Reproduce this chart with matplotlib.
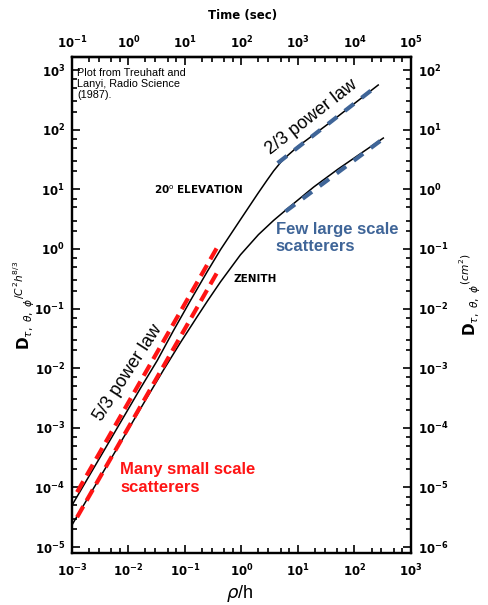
import numpy as np
import matplotlib.pyplot as plt
from matplotlib.ticker import LogLocator, NullFormatter, FuncFormatter

# values (log10 of rho/h and of D/(C^2 h^(8/3)))
elev_logx = [-3.00, -1.79, -1.49, -1.21, -0.90, -0.60, -0.37, -0.02, 0.29, 0.45, 0.57,
             0.70, 0.82, 1.00, 1.17, 1.58, 1.89, 2.42]
elev_logy = [-4.30, -2.34, -1.87, -1.38, -0.86, -0.37, -0.01, 0.49, 0.93, 1.15, 1.31,
             1.46, 1.57, 1.72, 1.84, 2.13, 2.36, 2.75]

zen_logx = [-3.00, -1.67, -1.38, -1.08, -0.78, -0.60, -0.37, -0.02, 0.30, 0.57, 0.87,
            1.28, 1.71, 2.17, 2.51]
zen_logy = [-4.63, -2.49, -2.03, -1.57, -1.13, -0.87, -0.55, -0.10, 0.24, 0.48, 0.72,
            1.04, 1.34, 1.64, 1.86]

# 5/3 power law fits (red) and 2/3 power law fits (blue)
red_up_logx = [-2.91, -0.41]
red_up_logy = [-4.08, 0.06]
red_lo_logx = [-2.91, -0.41]
red_lo_logy = [-4.50, -0.36]

blue_up_logx = [0.64, 2.35]
blue_up_logy = [1.44, 2.70]
blue_lo_logx = [0.78, 2.51]
blue_lo_logy = [0.63, 1.85]

RED = '#ff1414'
BLUE = '#3f6598'


def pw(v):
    return 10.0 ** np.array(v)


def bold_pow(val, pos):
    e = int(round(np.log10(val)))
    return r'$\mathbf{10^{%d}}$' % e


def style_log_axis(axis):
    axis.set_major_locator(LogLocator(base=10, numticks=20))
    axis.set_minor_locator(LogLocator(base=10, subs=(2, 3, 5, 7), numticks=20))
    axis.set_minor_formatter(NullFormatter())
    axis.set_major_formatter(FuncFormatter(bold_pow))


fig = plt.figure(figsize=(4.88, 6.05), dpi=100)
ax = fig.add_axes([0.1475, 0.086, 0.6947, 0.8198])
ax.set_xscale('log')
ax.set_yscale('log')
ax.set_xlim(1e-3, 1e3)
ax.set_ylim(10 ** -5.1, 10 ** 3.22)

ax.plot(pw(elev_logx), pw(elev_logy), color='black', lw=1.1, zorder=2)
ax.plot(pw(zen_logx), pw(zen_logy), color='black', lw=1.1, zorder=2)

ax.plot(pw(red_up_logx), pw(red_up_logy), color=RED, lw=3, dashes=(3, 1.6), zorder=3)
ax.plot(pw(red_lo_logx), pw(red_lo_logy), color=RED, lw=3, dashes=(3, 1.6), zorder=3)
ax.plot(pw(blue_up_logx), pw(blue_up_logy), color=BLUE, lw=3, dashes=(2.8, 2.3), zorder=3)
ax.plot(pw(blue_lo_logx), pw(blue_lo_logy), color=BLUE, lw=3, dashes=(2.8, 2.3), zorder=3)

# ticks
style_log_axis(ax.xaxis)
style_log_axis(ax.yaxis)
ax.tick_params(which='both', direction='in', width=1.2, labelsize=8.5)
ax.tick_params(which='major', length=6)
ax.tick_params(which='minor', length=3.5)
ax.tick_params(axis='x', pad=7)
ax.tick_params(axis='y', pad=5)

# right axis (cm^2) is one decade below the normalized axis
ax2 = ax.twinx()
ax2.set_yscale('log')
lo, hi = ax.get_ylim()
ax2.set_ylim(lo / 10, hi / 10)
style_log_axis(ax2.yaxis)
ax2.tick_params(which='both', direction='in', width=1.2, labelsize=8.5, pad=5)
ax2.tick_params(which='major', length=6)
ax2.tick_params(which='minor', length=3.5)

# top axis: time in seconds
secax = ax.secondary_xaxis('top', functions=(lambda r: r * 100, lambda t: t / 100))
style_log_axis(secax.xaxis)
secax.tick_params(which='both', direction='in', width=1.2, labelsize=8.5, pad=4)
secax.tick_params(which='major', length=6)
secax.tick_params(which='minor', length=3.5)

for a in (ax, ax2, secax):
    for s in a.spines.values():
        s.set_linewidth(1.6)

# annotations
ax.text(0.016, 0.978, 'Plot from Treuhaft and\nLanyi, Radio Science\n(1987).',
        transform=ax.transAxes, ha='left', va='top', fontsize=7.8,
        family='Liberation Sans', linespacing=1.15)
ax.text(10 ** -0.76, 10 ** 1.0, r'20$^{\rm o}$ ELEVATION', ha='center', va='center',
        fontsize=7.5, fontweight='bold')
ax.text(10 ** 0.25, 10 ** -0.51, 'ZENITH', ha='center', va='center',
        fontsize=7.5, fontweight='bold')
ax.text(10 ** 1.245, 10 ** 2.21, '2/3 power law', ha='center', va='center',
        rotation=38, rotation_mode='anchor', fontsize=13, family='Liberation Sans')
ax.text(10 ** -2.005, 10 ** -2.08, '5/3 power law', ha='center', va='center',
        rotation=57, rotation_mode='anchor', fontsize=13, family='Liberation Sans')
ax.text(10 ** -2.147, 10 ** -3.85, 'Many small scale\nscatterers', ha='left', va='center',
        fontsize=12, fontweight='bold', color=RED, family='Liberation Sans')
ax.text(10 ** 0.606, 10 ** 0.18, 'Few large scale\nscatterers', ha='left', va='center',
        fontsize=12, fontweight='bold', color=BLUE, family='Liberation Sans')

# axis titles
fig.text(240 / 488, 1 - 593 / 605, r'$\rho$/h', ha='center', va='center',
         fontsize=13, family='Liberation Sans')
fig.text(243 / 488, 1 - 15 / 605, 'Time (sec)', ha='center', va='center',
         fontsize=8.5, fontweight='bold')
fig.text(24 / 488, 1 - 305 / 605, r'$\mathbf{D}_{\tau,\ \theta,\ \phi}{}^{/C^2h^{8/3}}$',
         ha='center', va='center', rotation=90, fontsize=11)
fig.text(470 / 488, 1 - 295 / 605, r'$\mathbf{D}_{\tau,\ \theta,\ \phi}{}^{(cm^2)}$',
         ha='center', va='center', rotation=90, fontsize=11)

fig.savefig('out.png', dpi=100)
